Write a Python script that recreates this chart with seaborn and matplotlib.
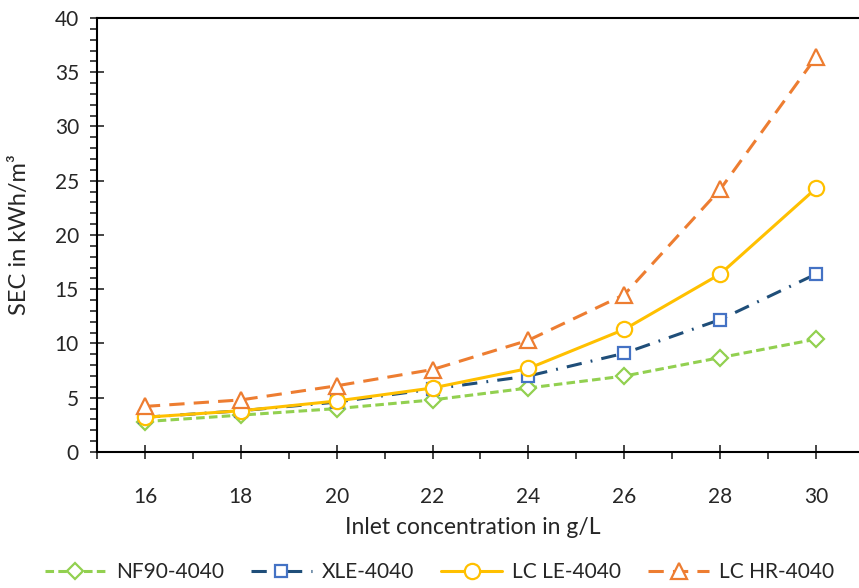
import numpy as np
import pandas as pd
import seaborn as sns
import matplotlib.pyplot as plt
from matplotlib.ticker import MultipleLocator

# data
conc = [16, 18, 20, 22, 24, 26, 28, 30]
nf90 = [2.8, 3.4, 4.0, 4.8, 5.9, 7.0, 8.7, 10.4]
xle = [3.2, 3.8, 4.6, 5.8, 7.0, 9.1, 12.2, 16.4]
lc_le = [3.2, 3.8, 4.7, 5.9, 7.7, 11.3, 16.4, 24.3]
lc_hr = [4.2, 4.8, 6.1, 7.6, 10.3, 14.5, 24.2, 36.4]

sns.set_style('white')
plt.rcParams['font.family'] = ['Lato', 'DejaVu Sans']

fig = plt.figure(figsize=(8.59, 5.88), dpi=100)
ax = fig.add_axes([0.1129, 0.2313, 0.8929, 0.7381])

series = [
    ('NF90-4040', nf90, '#92D050', '#92D050', 'D', 8, (2.8, 1.4)),
    ('XLE-4040', xle, '#1F4E79', '#4472C4', 's', 9, (5, 3, 0.6, 3)),
    ('LC LE-4040', lc_le, '#FFC000', '#FFC000', 'o', 11, None),
    ('LC HR-4040', lc_hr, '#ED7D31', '#ED7D31', '^', 11, (5, 3)),
]

for name, vals, lc, mc, mk, ms, dash in series:
    df = pd.DataFrame({'x': conc, 'y': vals})
    sns.lineplot(data=df, x='x', y='y', ax=ax, color=lc, linewidth=2.2,
                 marker=mk, markersize=ms, markerfacecolor='white',
                 markeredgecolor=mc, markeredgewidth=1.6, label=name)
    if dash is not None:
        ax.lines[-1].set_dashes(dash)

ax.set_xlim(15, 31)
ax.set_ylim(0, 40)
ax.xaxis.set_major_locator(MultipleLocator(2))
ax.xaxis.set_minor_locator(MultipleLocator(1))
ax.yaxis.set_major_locator(MultipleLocator(5))
ax.yaxis.set_minor_locator(MultipleLocator(1))
ax.tick_params(axis='both', which='major', direction='inout', length=10, width=1.2,
               labelsize=15, pad=8)
ax.tick_params(axis='both', which='minor', direction='out', length=5, width=1.2)
ax.tick_params(axis='x', which='major', pad=20)
ax.tick_params(bottom=True, left=True, which='both')
for s in ['left', 'bottom', 'top']:
    ax.spines[s].set_linewidth(1.5)
    ax.spines[s].set_color('black')
ax.spines['right'].set_visible(False)

ax.set_xlabel('Inlet concentration in g/L', fontsize=16.5)
ax.set_ylabel('SEC in kWh/m³', fontsize=17)
ax.xaxis.set_label_coords(0.49, -0.15)
ax.yaxis.set_label_coords(-0.087, 0.5)

handles, labels = ax.get_legend_handles_labels()
ax.get_legend().remove()
fig.legend(handles, labels, loc='center', bbox_to_anchor=(0.512, 0.027), ncol=4,
           frameon=False, fontsize=15, handlelength=2.9, handletextpad=0.5,
           columnspacing=1.3)

fig.savefig('out.png', dpi=100)
